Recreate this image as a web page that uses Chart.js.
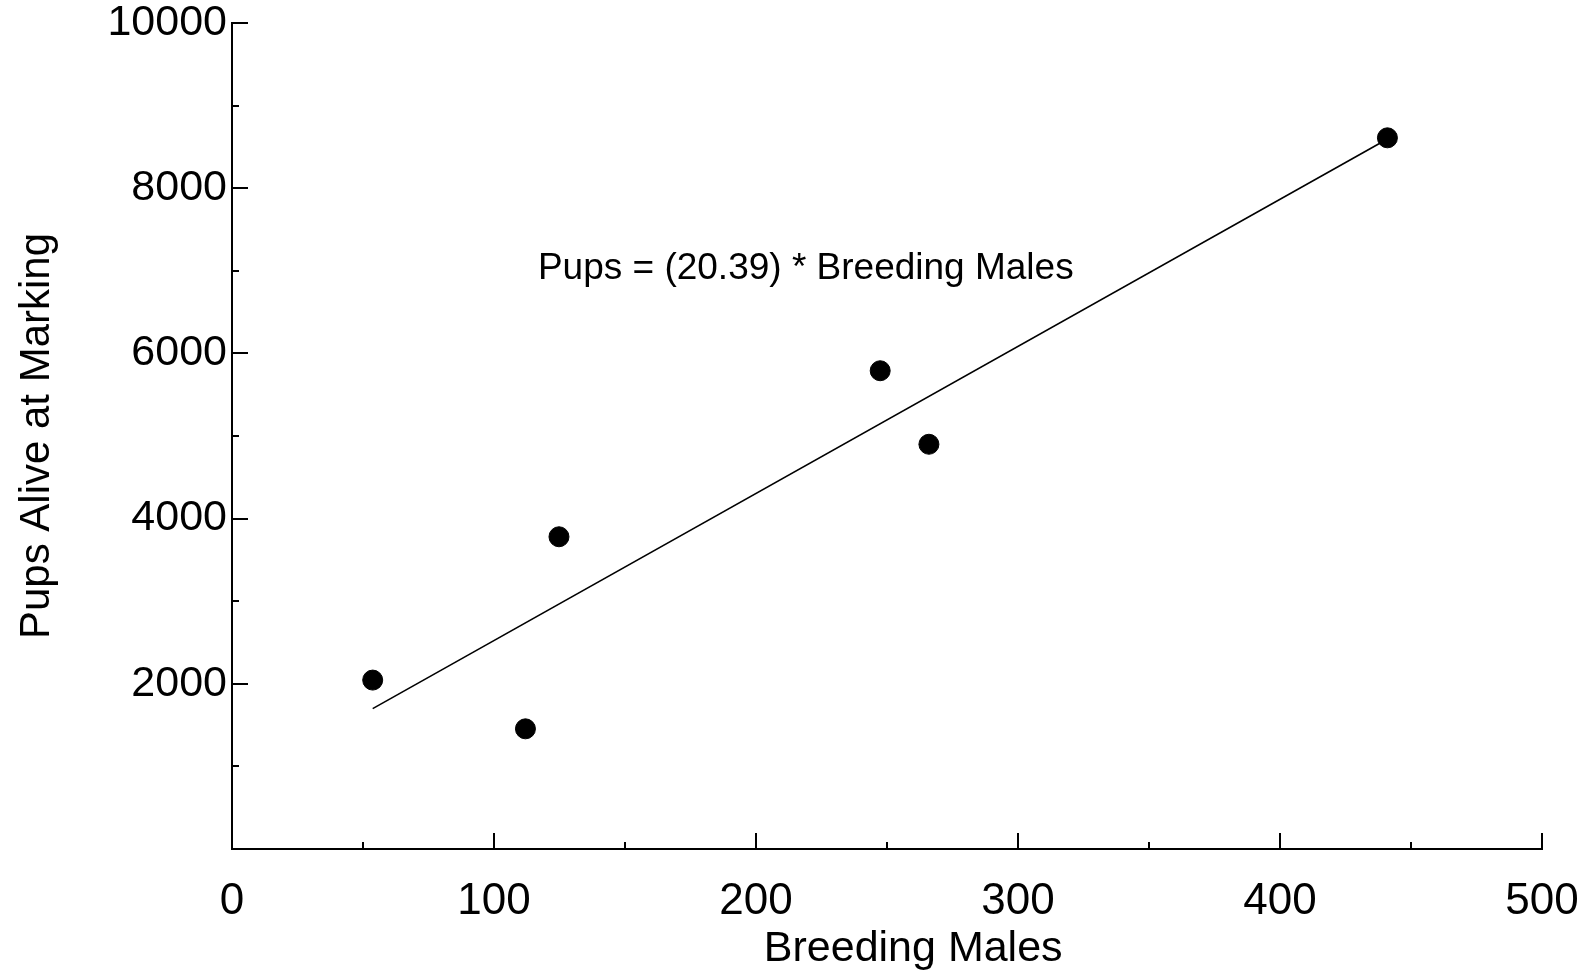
<!DOCTYPE html>
<html>
<head>
<meta charset="utf-8">
<script src="https://cdn.jsdelivr.net/npm/chart.js@4/dist/chart.umd.min.js"></script>
<style>
  html, body { margin: 0; padding: 0; background: #fff; }
  #wrap { width: 1594px; height: 976px; }
</style>
</head>
<body>
<div id="wrap"><canvas id="pupsChart" width="1594" height="976"></canvas></div>
<script>
// breeding males vs pups alive at marking
const breedingMales = [53.7, 112, 124.8, 247.4, 266, 441];
const pupsAlive = [2045, 1455, 3780, 5790, 4900, 8610];

// fitted line as drawn (two end points)
const fitX = [53.7, 441];
const fitY = [1700, 8596];

const fitLabel = 'Pups = (20.39) * Breeding Males';
const fitLabelAt = [219, 7020];

const xTitle = 'Breeding Males';
const xTitleAt = 260;

const xTickLabels = [0, 100, 200, 300, 400, 500];
const yTickLabels = [2000, 4000, 6000, 8000, 10000];

const font = "'Liberation Sans', Arial, sans-serif";

// ticks pointing into the plot, long at labelled values, short in between
const innerTicks = {
  id: 'innerTicks',
  afterDraw(chart) {
    const ctx = chart.ctx;
    const x = chart.scales.x;
    const y = chart.scales.y;
    ctx.save();
    ctx.strokeStyle = '#000';
    ctx.lineWidth = 2;
    for (let v = 50; v <= 500; v += 50) {
      const px = Math.round(x.getPixelForValue(v));
      const len = v % 100 === 0 ? 16 : 7;
      ctx.beginPath();
      ctx.moveTo(px, y.bottom);
      ctx.lineTo(px, y.bottom - len);
      ctx.stroke();
    }
    for (let v = 1000; v <= 10000; v += 1000) {
      const py = Math.round(y.getPixelForValue(v));
      const len = v % 2000 === 0 ? 16 : 7;
      ctx.beginPath();
      ctx.moveTo(x.left, py);
      ctx.lineTo(x.left + len, py);
      ctx.stroke();
    }
    ctx.fillStyle = '#000';
    ctx.textAlign = 'center';
    ctx.textBaseline = 'middle';
    // equation text
    ctx.font = '37px ' + font;
    ctx.fillText(fitLabel, x.getPixelForValue(fitLabelAt[0]), y.getPixelForValue(fitLabelAt[1]));
    // x axis title (sits right of centre in the original)
    ctx.font = '43px ' + font;
    ctx.fillText(xTitle, x.getPixelForValue(xTitleAt), 949);
    ctx.restore();
  }
};

new Chart(document.getElementById('pupsChart'), {
  type: 'scatter',
  data: {
    datasets: [
      {
        label: 'Observed',
        data: breedingMales.map((m, i) => ({ x: m, y: pupsAlive[i] })),
        backgroundColor: '#000',
        borderColor: '#000',
        pointRadius: 10,
        pointHoverRadius: 10
      },
      {
        label: 'Fit',
        data: fitX.map((m, i) => ({ x: m, y: fitY[i] })),
        showLine: true,
        borderColor: '#000',
        borderWidth: 1.6,
        pointRadius: 0,
        fill: false
      }
    ]
  },
  options: {
    responsive: false,
    animation: false,
    events: [],
    layout: { padding: { top: 23, right: 52, left: 0, bottom: 0 } },
    plugins: {
      legend: { display: false },
      tooltip: { enabled: false }
    },
    scales: {
      x: {
        type: 'linear',
        min: 0,
        max: 500,
        afterFit(scale) {
          scale.height = 127;
          scale.paddingLeft = 0;
          scale.paddingRight = 0;
        },
        afterBuildTicks(scale) { scale.ticks = xTickLabels.map(v => ({ value: v })); },
        grid: { display: false, drawTicks: false },
        border: { display: true, color: '#000', width: 2 },
        ticks: {
          color: '#000',
          padding: 26,
          maxRotation: 0,
          font: { family: font, size: 44 },
          callback: v => String(v)
        }
      },
      y: {
        type: 'linear',
        min: 0,
        max: 10000,
        afterFit(scale) {
          scale.width = 232;
          scale.paddingTop = 0;
          scale.paddingBottom = 0;
        },
        afterBuildTicks(scale) { scale.ticks = yTickLabels.map(v => ({ value: v })); },
        grid: { display: false, drawTicks: false },
        border: { display: true, color: '#000', width: 2 },
        ticks: {
          color: '#000',
          padding: 5,
          font: { family: font, size: 43 },
          callback: v => String(v)
        },
        title: {
          display: true,
          text: 'Pups Alive at Marking',
          color: '#000',
          padding: { top: 12, bottom: 0 },
          font: { family: font, size: 42 }
        }
      }
    }
  },
  plugins: [innerTicks]
});
</script>
</body>
</html>
